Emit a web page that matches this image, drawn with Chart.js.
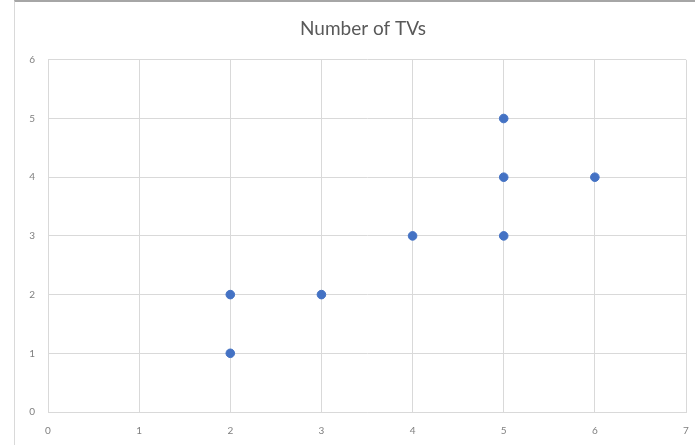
<!DOCTYPE html>
<html>
<head>
<meta charset="utf-8">
<script src="https://cdn.jsdelivr.net/npm/chart.js@4"></script>
<style>
  html, body { margin: 0; padding: 0; background: #fff; }
  #wrap {
    position: relative;
    width: 695px;
    height: 445px;
    overflow: hidden;
  }
  #frame {
    position: absolute;
    left: 14px;
    top: 0;
    width: 700px;
    height: 460px;
    border-left: 1px solid #d9d9d9;
    border-top: 2px solid #a6a6a6;
  }
  canvas { position: absolute; left: 0; top: 0; }
</style>
</head>
<body>
<div id="wrap">
  <div id="frame"></div>
  <!-- the chart runs a little past the right edge of the window -->
  <canvas id="chart" width="712" height="445"></canvas>
</div>
<script>
// how many TVs, plotted as (x, y) pairs
const xValues = [2, 2, 3, 4, 5, 5, 5, 6];
const yValues = [1, 2, 2, 3, 3, 4, 5, 4];
const xTicks = [0, 1, 2, 3, 4, 5, 6, 7];
const yTicks = [0, 1, 2, 3, 4, 5, 6];
const chartTitle = "Number of TVs";

const points = xValues.map((x, i) => ({ x: x, y: yValues[i] }));

const gridColor = "#d9d9d9";
const labelColor = "#7f7f7f";
const tickFont = { family: "Lato", size: 10 };

const ctx = document.getElementById("chart");

new Chart(ctx, {
  type: "scatter",
  data: {
    datasets: [{
      data: points,
      backgroundColor: "#4472c4",
      borderColor: "#4472c4",
      pointRadius: 4.3,
      pointHoverRadius: 4.3
    }]
  },
  options: {
    responsive: false,
    animation: false,
    layout: { padding: { left: 14, right: 0, top: 0, bottom: 0 } },
    plugins: {
      legend: { display: false },
      tooltip: { enabled: false },
      title: {
        display: true,
        text: chartTitle,
        color: "#595959",
        font: { family: "Lato", size: 19, weight: "normal", lineHeight: 1.2 },
        padding: { top: 17, bottom: 20 }
      }
    },
    scales: {
      x: {
        type: "linear",
        min: xTicks[0],
        max: xTicks[xTicks.length - 1],
        afterBuildTicks: axis => { axis.ticks = xTicks.map(v => ({ value: v })); },
        // room on the right of the plot without moving the title
        afterFit: axis => { axis.height = 33; axis.paddingRight = 26; },
        grid: { color: gridColor, drawTicks: false },
        border: { color: gridColor },
        ticks: { color: labelColor, font: tickFont, padding: 13 }
      },
      y: {
        type: "linear",
        min: yTicks[0],
        max: yTicks[yTicks.length - 1],
        afterBuildTicks: axis => { axis.ticks = yTicks.map(v => ({ value: v })); },
        afterFit: axis => { axis.width = 34; },
        grid: { color: gridColor, drawTicks: false },
        border: { color: gridColor },
        ticks: { color: labelColor, font: tickFont, padding: 13 }
      }
    }
  }
});
</script>
</body>
</html>
